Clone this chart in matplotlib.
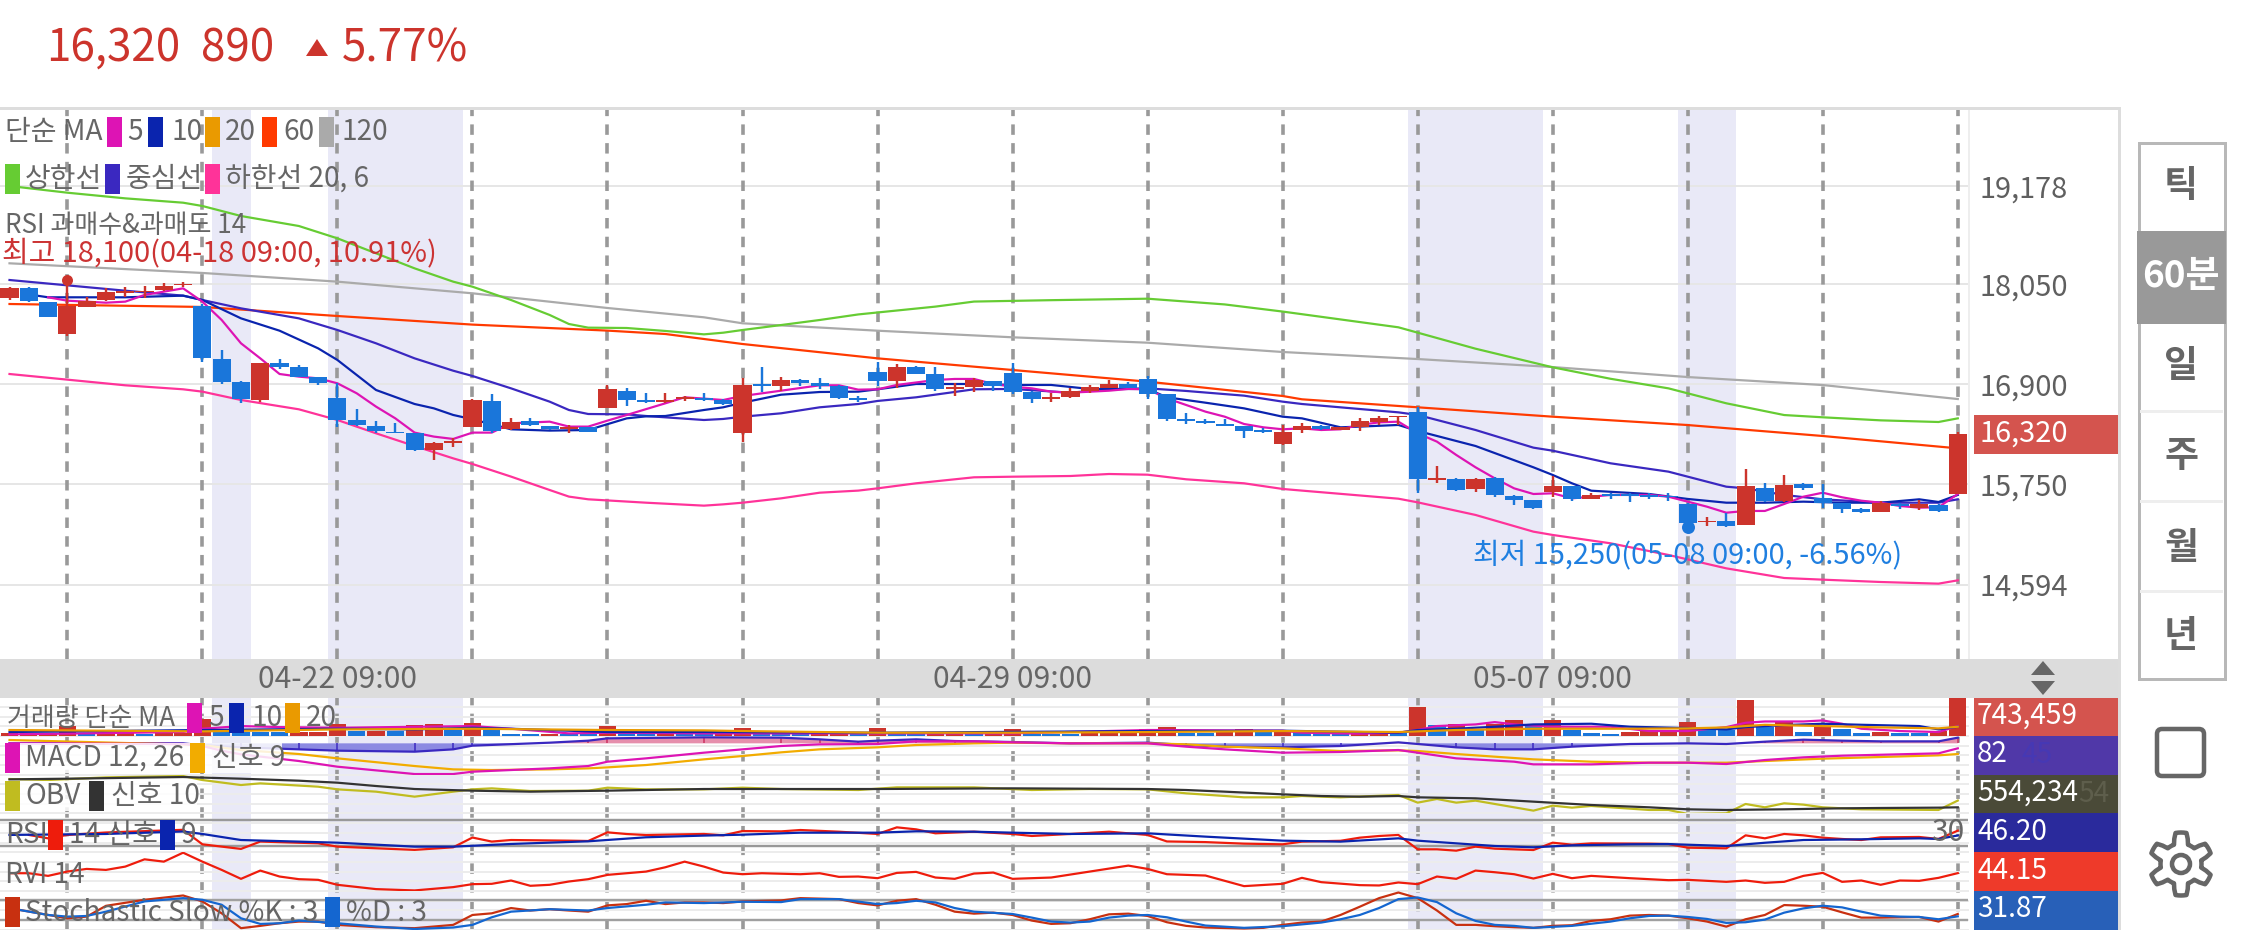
import numpy as np
import matplotlib
matplotlib.use("Agg")
import matplotlib.pyplot as plt
from matplotlib.patches import Rectangle, Polygon, Circle, FancyBboxPatch

W, H = 2241, 930
KR = ['Noto Sans CJK KR', 'DejaVu Sans']
plt.rcParams['font.family'] = KR

# ---------- data ----------
OPEN = [17885,18000,17847,17475,17790,17866,17950,17954,17977,18039,17801,17184,16923,16716,17138,17100,16977,16743,16482,16421,
        16352,16333,16141,16218,16410,16701,16379,16471,16414,16379,16402,16628,16820,16720,16689,16732,16743,16716,16337,16900,
        16877,16942,16912,16881,16735,17042,16938,17092,17015,16846,16869,16931,17023,16808,16724,16747,16823,16858,16896,16954,
        16785,16498,16478,16444,16413,16367,16206,16371,16421,16375,16406,16463,16517,16582,15800,15811,15689,15823,15616,15566,
        15662,15727,15578,15631,15631,15620,15612,15520,15313,15325,15282,15700,15558,15750,15593,15528,15459,15432,15520,15474,15508,15639]
CLOSE = [18000,17855,17675,17801,17859,17958,17966,17973,18027,18050,17195,16923,16728,17138,17092,16985,16916,16490,16429,16360,
        16341,16141,16226,16245,16712,16360,16463,16429,16379,16406,16352,16839,16720,16689,16716,16755,16716,16666,16885,16873,
        16942,16915,16881,16739,16712,16935,17099,17019,16843,16866,16942,16881,16808,16728,16747,16820,16866,16900,16854,16789,
        16498,16478,16455,16421,16360,16344,16352,16417,16379,16406,16475,16509,16532,15808,15815,15685,15811,15627,15570,15470,
        15723,15581,15624,15616,15612,15597,15597,15305,15328,15271,15723,15558,15742,15700,15535,15463,15432,15532,15493,15520,15440,16320]
HIGH = [18019,18012,17847,18100,17905,18000,18019,18027,18065,18077,17820,17291,16935,17138,17184,17119,16985,16908,16609,16471,
        16448,16341,16233,16275,16728,16781,16505,16505,16421,16429,16410,16889,16850,16793,16800,16762,16793,16724,16973,17092,
        16977,16958,16965,16889,16762,17157,17130,17107,17092,16908,16965,16935,17145,16823,16793,16850,16889,16946,16923,16992,
        16785,16563,16498,16494,16421,16390,16429,16455,16425,16410,16505,16536,16536,16639,15957,15815,15823,15827,15624,15566,
        15842,15731,15643,15643,15643,15643,15643,15530,15374,15413,15926,15765,15854,15758,15750,15535,15470,15555,15535,15566,15520,16344]
LOW = [17866,17843,17675,17452,17790,17855,17905,17893,17970,18019,17157,16896,16678,16693,17077,16977,16885,16410,16421,16333,
        16333,16126,16026,16180,16410,16333,16371,16421,16371,16341,16344,16628,16647,16686,16678,16705,16705,16659,16237,16812,
        16823,16877,16843,16731,16693,16880,16858,17015,16823,16762,16812,16823,16785,16685,16697,16743,16800,16850,16850,16724,
        16478,16436,16440,16415,16275,16335,16198,16340,16375,16367,16363,16429,16429,15643,15765,15670,15662,15604,15509,15466,
        15597,15558,15574,15578,15547,15580,15558,15250,15271,15259,15282,15547,15547,15681,15470,15420,15420,15425,15459,15451,15430,15639]

MA120_X = [0,10,17,24,31,36,38,45,52,59,66,73,80,87,94,101]
MA120 = [18288,18177,18077,17943,17774,17667,17598,17513,17437,17375,17268,17187,17095,16980,16888,16727]
MA60_X = [0,10,17,24,31,34,38,45,52,59,66,67,73,80,87,94,101]
MA60 = [17820,17786,17682,17583,17514,17475,17360,17195,17061,16927,16762,16724,16632,16524,16428,16302,16160]
UP_X = [0,3,6,9,10,12,15,17,19,21,23,24,26,28,29,30,32,34,36,37,38,40,42,44,48,50,54,59,63,66,72,76,80,83,86,89,92,94,97,100,101]
UP = [19177,19100,19035,18985,18947,18832,18717,18575,18403,18230,18077,18019,17866,17694,17590,17548,17544,17510,17471,17490,17521,17578,17636,17700,17790,17848,17864,17881,17815,17733,17552,17306,17092,16960,16850,16678,16543,16517,16482,16463,16505]
LOWB_X = [0,6,9,10,12,15,17,19,21,23,24,26,28,29,30,33,36,37,38,40,42,44,45,47,50,52,55,57,59,61,64,66,67,72,73,76,79,80,83,86,89,92,94,97,100,101]
LOWB = [17015,16885,16839,16812,16716,16609,16486,16333,16187,16045,15980,15835,15681,15605,15574,15535,15501,15516,15535,15585,15650,15674,15700,15758,15827,15834,15842,15865,15857,15804,15758,15693,15674,15581,15539,15394,15202,15164,15068,14934,14780,14669,14650,14623,14604,14642]
MID_X = [0,6,9,10,12,15,17,19,21,23,24,26,28,29,30,32,33,36,37,38,40,42,44,45,47,50,52,55,57,59,61,64,66,67,72,73,76,79,80,83,86,89,90,92,94,97,100,101]
MID = [18096,17973,17916,17866,17770,17655,17521,17368,17195,17053,16992,16850,16697,16601,16555,16551,16532,16486,16498,16524,16563,16632,16670,16705,16747,16839,16843,16800,16839,16850,16820,16766,16697,16670,16574,16544,16371,16168,16133,15988,15892,15719,15700,15624,15574,15535,15535,15574]
MA10_X = [1,2,6,9,10,12,14,16,17,19,21,22,23,24,26,28,30,32,33,34,36,37,38,40,42,44,45,47,50,52,54,56,58,59,60,62,64,66,67,69,70,72,73,76,79,80,81,82,85,87,89,91,93,95,97,99,100,101]
MA10 = [17930,17897,17897,17916,17866,17655,17513,17310,17176,16831,16670,16620,16544,16494,16379,16364,16371,16505,16528,16532,16601,16632,16685,16777,16808,16812,16839,16900,16900,16889,16889,16843,16843,16843,16747,16685,16620,16524,16505,16402,16410,16429,16360,16187,15942,15854,15758,15673,15635,15578,15535,15535,15547,15535,15535,15574,15543,15624]
MA5_X = [2,3,5,6,7,9,10,11,12,13,14,15,16,17,18,19,20,21,22,23,24,25,26,28,29,30,31,32,34,35,36,37,38,40,42,43,44,45,46,48,49,50,51,52,53,54,55,57,58,59,60,62,63,64,65,66,67,68,69,70,71,72,73,74,75,76,77,78,79,80,81,82,83,85,86,87,88,89,90,91,92,93,94,95,96,97,98,99,100,101]
MA5 = [17897,17858,17835,17847,17924,18000,17847,17636,17368,17195,17015,16985,16965,16908,16793,16640,16505,16341,16295,16268,16341,16341,16448,16467,16410,16410,16479,16544,16678,16747,16732,16716,16762,16823,16885,16885,16835,16839,16889,16946,16958,16958,16900,16869,16850,16812,16800,16823,16843,16839,16735,16582,16524,16440,16402,16379,16390,16371,16379,16429,16459,16467,16333,16237,16084,15942,15815,15700,15635,15643,15585,15604,15624,15624,15604,15547,15489,15420,15440,15440,15520,15604,15650,15597,15558,15535,15497,15478,15482,15635]

VOL_SIGN = "RRRRBRRBRRRBBBBRRRBRBRRBRBBBRBBRBBRBBRRBBBRRBRBBRRBRRBBBRRRRRBBRRBRBBBRRBRBRBRRBRBBBRRRRBBRBRBRBBRBBRR"
VOLUME = [51,51,51,193,51,51,51,39,51,51,321,77,77,77,77,77,77,225,96,96,96,205,225,116,244,116,32,32,39,32,51,193,51,32,32,32,45,45,160,64,45,45,32,32,32,160,38,38,64,64,45,64,141,45,38,38,58,64,58,141,180,64,64,77,141,77,83,77,45,32,64,45,51,558,205,225,116,225,302,193,302,116,64,45,77,116,116,270,128,116,706,180,270,77,180,141,51,77,58,51,96,743.459]
VMA20_X = [0,10,17,24,31,36,38,45,52,59,66,72,75,79,84,87,89,91,94,97,100,101]
VMA20 = [116,90,128,141,116,109,96,64,64,77,96,77,116,141,141,148,167,218,193,167,148,180]
VMA10_X = [0,10,17,21,24,26,31,36,45,59,66,72,73,75,77,79,82,84,87,89,90,92,94,96,99,100,101]
VMA10 = [77,116,141,128,160,141,77,77,64,96,103,64,116,141,180,225,238,180,154,128,173,212,238,218,193,128,180]
VMA5_X = [0,9,10,12,14,17,24,26,29,31,36,45,52,59,60,66,67,70,72,73,74,76,77,78,80,83,85,87,89,90,91,93,94,95,96,98,100,101]
VMA5 = [32,77,141,193,173,160,193,141,51,64,51,51,51,116,116,103,64,45,64,116,193,225,270,225,180,180,96,96,173,257,282,282,302,238,141,96,77,193]

OSC_X = [0,9,10,12,15,17,21,23,24,28,30,31,36,40,42,44,45,47,49,52,55,59,61,63,66,69,72,73,75,77,79,81,84,87,89,91,93,95,97,100,101]
OSC = [0,0,-30,-60,-90,-110,-125,-90,-35,10,40,75,90,85,60,25,40,60,35,20,0,10,-25,-50,-60,-40,15,-10,-60,-90,-90,-50,-10,0,-10,25,55,40,30,30,85]
MACD_X = [0,9,10,11,12,15,17,21,23,24,28,30,31,33,36,38,40,42,45,47,50,52,55,59,61,63,66,69,72,73,75,78,79,82,85,87,89,91,93,95,100,101]
MACD = [0,-10,-40,-110,-165,-265,-350,-460,-460,-425,-375,-340,-275,-225,-140,-90,-40,-15,-10,30,30,15,0,0,-50,-90,-140,-130,-100,-140,-225,-275,-315,-315,-290,-290,-310,-250,-210,-185,-150,-75]
SIG_X = [0,10,12,15,17,21,23,25,28,30,31,33,36,38,40,42,45,47,50,52,55,59,61,63,66,69,72,73,75,79,82,85,89,91,94,97,100,101]
SIG = [50,-25,-100,-160,-225,-340,-390,-400,-390,-375,-360,-325,-240,-190,-135,-90,-60,-25,0,10,0,0,-15,-50,-75,-115,-105,-115,-160,-240,-275,-290,-290,-265,-230,-205,-180,-160]

OBV_X = [0,2,5,9,10,12,13,16,17,19,21,23,24,25,27,30,31,33,36,38,40,44,46,50,53,56,59,61,64,66,67,69,72,73,74,75,76,79,80,81,82,85,86,87,89,90,91,92,93,94,96,100,101]
OBV = [619,616,624,628,616,601,606,596,588,581,566,581,588,591,583,584,593,588,588,593,589,586,594,594,586,589,588,576,564,564,568,564,571,548,559,548,554,524,539,533,538,526,526,514,516,544,534,546,542,534,528,526,554.234]
OBVS_X = [0,3,9,12,15,17,19,21,24,27,31,36,45,52,59,61,63,66,68,70,72,73,76,79,82,85,87,89,92,95,97,100,101]
OBVS = [618,620,625,620,614,608,598,589,584,581,584,589,589,591,589,586,581,573,568,566,568,564,561,551,541,534,528,526,528,531,532,533,534]

RSI_X = [1,2,3,5,9,10,12,13,16,17,21,23,24,25,26,29,30,31,32,33,36,37,38,40,41,43,45,46,47,48,50,52,53,55,57,59,60,62,64,66,67,69,70,71,72,73,74,75,76,77,79,80,81,82,85,86,87,89,90,91,92,93,94,95,96,97,99,100,101]
RSI = [47,41.8,47,50.8,54.9,32.6,25.5,36.8,34.1,29,24,28,43,36.8,39.2,38.2,37.7,51,48.4,46.9,48.5,46.4,53,52.5,54.6,52,48.5,58.7,55.6,49.5,52,48.5,45.4,48.5,52,47,37,36,33.6,32.6,36.7,38,42.8,45.4,47,24.9,24.9,22.8,29,25.9,23.8,35.1,32,34,33.6,33,27.4,26.4,46.4,41.8,48.5,46.4,42.8,40.8,39.2,43.3,43.9,40.8,53.6]
RSIS_X = [0,5,9,10,12,17,21,23,26,30,33,36,38,41,45,47,50,52,55,59,62,66,69,72,73,75,77,79,81,84,86,89,91,93,96,99,100,101]
RSIS = [47,48.5,52.3,48.5,39.2,35.1,29,29,33.1,37.2,43.4,46,47.4,50.5,50.5,52.6,52,50.5,48.5,49.5,44.4,38.2,36.7,41.8,38.2,34.1,30,28,31,32.6,33,30,35,39.2,40.3,41.8,40.8,46.2]

RVI_X = [0,1,2,3,4,5,6,7,8,9,10,11,12,13,14,15,16,17,19,21,23,24,25,26,27,28,29,30,31,33,34,35,36,37,38,39,41,42,43,44,45,46,47,48,49,50,51,52,54,56,58,59,60,62,64,66,67,68,70,71,72,73,74,75,76,77,78,79,80,81,82,84,86,87,89,90,91,92,93,94,95,96,97,98,99,100,101]
RVI = [44,44,40,46.5,50.5,49,54,65,61.5,75,61.5,49,35.5,48,39,35,34,26.5,20,18,23,27.5,28,33,25,26.5,31.5,35,41.5,46.5,53,61.5,54,45,42.5,44,42.5,44,38.5,39,36.5,44.5,46,37.5,35.5,43.5,45,35.5,37.5,46.5,55.5,50.5,42.5,40.5,24.5,28,37,30.5,26,25.5,30,27.5,39,35.5,48,45.5,42.5,36,43,36.5,40,36.5,33.5,34,31,33,29.5,31,40,44.5,31,33,26.5,33,32.5,37,44.15]

STK_X = [0,1,3,4,5,7,9,10,11,12,13,14,15,16,17,19,21,23,24,25,26,27,28,29,30,31,32,33,34,35,36,37,38,40,41,43,44,45,46,47,48,49,50,51,52,53,54,55,56,57,58,59,60,61,62,64,65,66,67,68,69,70,71,72,73,74,75,76,77,78,79,80,81,82,83,84,85,86,87,88,89,90,91,92,93,94,95,96,97,98,99,100,101]
STK = [56.6,46.4,26,31,63.7,82,95,77,41,-4,3,11,16,16,6,-1,-4,6,36,41,57,49.5,53.5,49.5,46,65,69,79,69,74,74,72,77,80,87,84,72,65,79,84,67,46,40,43,36,19,9,11,23,38,40,33,14,3,-2,-5,-3,6,13,16,36,61,87,104,87,49.5,6,6,2,-1,-3,3,5,18,23,34,36,34,26,16,0.7,23,36,66,64,61,44,28,28,29,30,16,39]
STD_X = [0,2,3,4,5,7,9,10,11,12,13,14,15,17,19,21,23,24,25,26,28,30,31,33,34,36,38,40,41,43,45,46,47,48,49,50,52,53,54,55,56,57,58,59,60,61,62,64,66,68,69,70,71,72,73,74,75,76,77,78,79,81,83,84,85,86,87,88,89,90,91,92,93,94,95,96,97,98,99,100,101]
STD = [56.6,36,31,33,46,77,87,82,67,26,9,11,19,11,1,-6.5,-2,6,29,46,53.5,49.5,57,67,74,72,76,75,84,84,69,72,79,74,57,46,39,28,16,13,16,28,34,36,29,16,4,-3,2,13,23,36,57,84,89,75,41,18,6,3,-3,3,16,26,33,34,30,24,12,14,22,43,56,64,59,46,34,31,30,23,31.87]

OVERSOLD = [(11,12),(17,23),(73,79),(87,89)]
VGRID_BARS = [3,10,17,24,31,38,45,52,59,66,73,80,87,94,101]
PRICE_TICKS = [19178,18050,16900,15750,14594]
TIME_BARS = [17,52,80]
TIME_LABELS = ['04-22 09:00','04-29 09:00','05-07 09:00']
TF_LABELS = ['틱','60분','일','주','월','년']
TAGS = ['743,459','82','554,234','46.20','44.15','31.87']

# ---------- colours ----------
RED, BLUE = '#cc342c', '#1a76da'
C_MA5, C_MA10, C_MA20, C_MA60, C_MA120 = '#dd14b4', '#0a24ae', '#ea9a00', '#ff3a00', '#aaaaaa'
C_UP, C_MID, C_LOW = '#66cc33', '#3a28c0', '#ff3399'
BAND = '#e9e9f7'
GRID = '#ececec'
TXT = '#666666'
TAG_COL = ['#d4544e','#5038a8','#4a4a38','#2a2a9c','#ee3a2a','#2860b8']
XL = (-9.5/19.29, (1968-9.5)/19.29)

fig = plt.figure(figsize=(W/100, H/100), dpi=100, facecolor='white')

def rect(x0, y0, x1, y1):
    return [x0/W, 1-y1/H, (x1-x0)/W, (y1-y0)/H]
def pt(px):
    return px*0.72

def pixel_axes(z):
    a = fig.add_axes([0,0,1,1], zorder=z)
    a.set_xlim(0,W); a.set_ylim(H,0); a.axis('off'); a.patch.set_visible(False)
    return a

def decorate(a):
    for s in OVERSOLD:
        a.axvspan(s[0]-.5, s[1]+.5, color=BAND, lw=0, zorder=0)
    for b in VGRID_BARS:
        a.axvline(b, color='#999999', lw=pt(3.6), ls=(0,(2.9,2.3)), zorder=1, dash_capstyle='butt')

# background chrome
bg = pixel_axes(0)
bg.add_patch(Rectangle((0,107),2121,3,color='#dddddd',lw=0))
bg.add_patch(Rectangle((0,659),2121,39,color='#dcdcdc',lw=0))
bg.add_patch(Rectangle((2118,107),3,823,color='#dddddd',lw=0))
bg.add_patch(Rectangle((1968,110),2,549,color='#eeeeee',lw=0))
bg.add_patch(Rectangle((1968,698),5,232,color='#ffffff',lw=0))

# main price chart
ax = fig.add_axes(rect(0,110,1968,659), zorder=1)
ax.set_xlim(*XL)
ax.set_ylim(18050-(659-284)*11.5, 18050+(284-110)*11.5)
ax.set_facecolor('none')
for s in ax.spines.values(): s.set_visible(False)
decorate(ax)
for t in PRICE_TICKS:
    ax.axhline(t, color='#e6e6e6', lw=pt(2), zorder=0.5)
ax.yaxis.tick_right()
ax.set_yticks(PRICE_TICKS, [f'{t:,}' for t in PRICE_TICKS], fontsize=pt(29), color='#5f5f5f')
ax.tick_params(axis='y', length=0, pad=pt(11))
ax.set_xticks(TIME_BARS, TIME_LABELS, fontsize=pt(30), color=TXT)
ax.tick_params(axis='x', length=0, pad=pt(5))

LW = pt(2.2)
for xs, ys, c in [(MA120_X,MA120,C_MA120),(MA60_X,MA60,C_MA60),(UP_X,UP,C_UP),(LOWB_X,LOWB,C_LOW),
                  (MID_X,MID,C_MID),(MA10_X,MA10,C_MA10),(MA5_X,MA5,C_MA5)]:
    ax.plot(xs, ys, color=c, lw=LW, zorder=3, solid_joinstyle='round')

idx = np.arange(len(OPEN))
o, c_, h, l = map(np.array, (OPEN, CLOSE, HIGH, LOW))
col = [RED if cc >= oo else BLUE for oo, cc in zip(o, c_)]
ax.vlines(idx, l, h, colors=col, lw=pt(2.4), zorder=4)
ax.bar(idx, np.maximum(np.abs(c_-o), 12), bottom=np.minimum(o, c_), width=0.94, color=col, lw=0, zorder=5)
ax.plot(idx[np.argmax(h)], h.max(), 'o', color=RED, ms=pt(11), mew=0, zorder=6)
ax.plot(idx[np.argmin(l)], l.min(), 'o', color=BLUE, ms=pt(13), mew=0, zorder=6)

# lower panes
ax_low = fig.add_axes(rect(0,698,1968,930), zorder=1)
ax_low.set_xlim(*XL); ax_low.set_ylim(0,1); ax_low.axis('off')
decorate(ax_low)

TOPS = [697.7,736,774.7,813.3,852.3,890.7,930]
LIMS = [(0,743.459),(-470,110),(516,632),(20.3,80.3),(17.6,75.6),(-9.5,109.5)]
panes = []
for i in range(6):
    a = fig.add_axes(rect(0,TOPS[i],1968,TOPS[i+1]), zorder=1+0.01*(i+1))
    a.set_xlim(*XL); a.set_ylim(*LIMS[i]); a.axis('off'); a.patch.set_visible(False)
    for f in (0,.25,.5,.75):
        v = LIMS[i][0]+f*(LIMS[i][1]-LIMS[i][0])
        a.axhline(v, color=GRID, lw=pt(2), zorder=0.5, clip_on=False)
    panes.append(a)
pv, pm, po, pr, pi_, ps = panes

pv.bar(idx, VOLUME, width=0.9, color=[RED if s=='R' else BLUE for s in VOL_SIGN], lw=0, zorder=2)
pv.plot(VMA5_X, VMA5, color=C_MA5, lw=LW, zorder=3, clip_on=True)
pv.plot(VMA10_X, VMA10, color=C_MA10, lw=LW, zorder=3)
pv.plot(VMA20_X, VMA20, color=C_MA20, lw=LW, zorder=3)

ox, ov = np.array(OSC_X), np.array(OSC)
pm.fill_between(ox, 0, ov, where=ov<=0, interpolate=True, color='#8c8ae2', lw=0, zorder=2)
pm.fill_between(ox, 0, ov, where=ov>=0, interpolate=True, color='#e68fac', lw=0, zorder=2)
pm.vlines(ox, 0, ov, colors=['#3a28c0' if v<0 else '#cc3060' for v in ov], lw=pt(1.5), zorder=2)
pm.plot(OSC_X, OSC, color=C_MID, lw=LW, zorder=3)
pm.plot(SIG_X, SIG, color='#f2ac00', lw=LW, zorder=3)
pm.plot(MACD_X, MACD, color=C_MA5, lw=LW, zorder=3)

po.plot(OBV_X, OBV, color='#c0bc20', lw=LW, zorder=3)
po.plot(OBVS_X, OBVS, color='#333333', lw=LW, zorder=3)

for v in (30,70):
    pr.axhline(v, color='#999999', lw=pt(2.4), zorder=1)
pr.plot(RSI_X, RSI, color='#ee1c0c', lw=LW, zorder=3)
pr.plot(RSIS_X, RSIS, color='#0a24ae', lw=LW, zorder=3)

pi_.plot(RVI_X, RVI, color='#ee1c0c', lw=LW, zorder=3)

for v in (20,80):
    ps.axhline(v, color='#a0a0a0', lw=pt(2.4), zorder=1)
ps.plot(STK_X, STK, color='#c83010', lw=LW, zorder=3)
ps.plot(STD_X, STD, color='#1466d0', lw=LW, zorder=3)

# foreground: legends, tags, buttons
ui = pixel_axes(3)
def T(x, y, s, px=28, color=TXT, ha='left', fam=KR, **kw):
    return ui.text(x, y, s, fontsize=pt(px), color=color, ha=ha, va='center', family=fam, **kw)
def SW(x, y0, c):
    ui.add_patch(Rectangle((x,y0),15,30,color=c,lw=0))

# header
T(46, 48, '16,320', 44, RED)
T(201, 48, '890', 44, RED)
ui.add_patch(Polygon([(306,56),(328,56),(317,39)], color=RED, lw=0))
T(342, 48, '5.77%', 44, RED)

# main legends
T(5,132,'단순 MA')
SW(107,117,C_MA5); T(127,132,'5')
SW(148,117,C_MA10); T(172,132,'10')
SW(205,117,C_MA20); T(225,132,'20')
SW(262,117,C_MA60); T(283,132,'60')
SW(319,117,C_MA120); T(341,132,'120')
SW(5,164,C_UP); T(25,179,'상한선')
SW(105,164,C_MID); T(126,179,'중심선')
SW(205,164,C_LOW); T(225,179,'하한선 20, 6')
T(5,225,'RSI 과매수&과매도 14',26)
T(2,253,'최고 18,100(04-18 09:00, 10.91%)',29,'#cc3333')
T(1473,555,'최저 15,250(05-08 09:00, -6.56%)',29,'#1f7fe0')

# lower legends
T(7,718,'거래량 단순 MA',26)
SW(187,703,C_MA5); T(208,718,'5')
SW(229,703,C_MA10); T(252,718,'10')
SW(285,703,C_MA20); T(306,718,'20')

ui.add_patch(Rectangle((5,743),277,30,color='white',alpha=.85,lw=0))
SW(5,743,C_MA5); T(25,758,'MACD 12, 26')
SW(190,743,'#f2ac00'); T(212,758,'신호 9')
ui.add_patch(Rectangle((5,781),192,30,color='white',alpha=.85,lw=0))
SW(5,781,'#c0bc20'); T(25,796,'OBV')
SW(89,781,'#333333'); T(111,796,'신호 10')
T(5,835,'RSI')
SW(48,820,'#ee1c0c'); T(69,835,'14 신호')
SW(160,820,'#0a24ae'); T(181,835,'9')
T(5,875,'RVI 14')
SW(5,897,'#c83010'); T(25,913,'Stochastic Slow %K : 3',28)
SW(325,897,'#1466d0'); T(346,913,'%D : 3')
T(1948,832,'30',30,'#666666',ha='center')

# value tags
ui.add_patch(Rectangle((1974,414.5),144,39,color='#d4544e',lw=0))
T(1980,434,'16,320',29,'white')
for i, s in enumerate(TAGS):
    ui.add_patch(Rectangle((1974,TOPS[i]),144,TOPS[i+1]-TOPS[i],color=TAG_COL[i],lw=0))
    if i == 1: T(2022,TOPS[i]+19,'45',28,'#4638b4')
    if i == 2: T(2078,TOPS[i]+19,'54',28,'#5e5e4c')
    T(1977,(TOPS[i]+TOPS[i+1])/2-1,s,28,'white')

# resize arrows
ui.add_patch(Polygon([(2031,675),(2055,675),(2043,661)],color=TXT,lw=0))
ui.add_patch(Polygon([(2031,681),(2055,681),(2043,695)],color=TXT,lw=0))

# timeframe buttons
ui.add_patch(Rectangle((2138.5,143.5),86,535,fill=False,ec='#b8b8b8',lw=pt(3)))
ui.add_patch(Rectangle((2137,231),89,93,color='#999999',lw=0))
for y in (411,501,591):
    ui.add_patch(Rectangle((2140,y-1),83,2.5,color='#eeeeee',lw=0))
for y, s in zip((187,276,366,456,548,636), TF_LABELS):
    T(2181,y,s,37,'white' if s=='60분' else '#666666',ha='center',fontweight='bold')

# square icon
ui.add_patch(FancyBboxPatch((2157,729),47,47,boxstyle='round,pad=0,rounding_size=5',fill=False,ec='#666666',lw=pt(4.5)))
# gear icon
cx, cy = 2181, 864
ang = np.radians(np.arange(0,360,5))
teeth = 6
rad = 26 + 5.5*np.clip(2.2*np.cos(teeth*(ang+np.pi/2)),-1,1)
ui.add_patch(Polygon(np.c_[cx+rad*np.cos(ang), cy+rad*np.sin(ang)], closed=True, fill=False, ec='#666666', lw=pt(4.5), joinstyle='round'))
ui.add_patch(Circle((cx,cy),9,fill=False,ec='#666666',lw=pt(4.5)))

fig.savefig('out.png', dpi=100)
